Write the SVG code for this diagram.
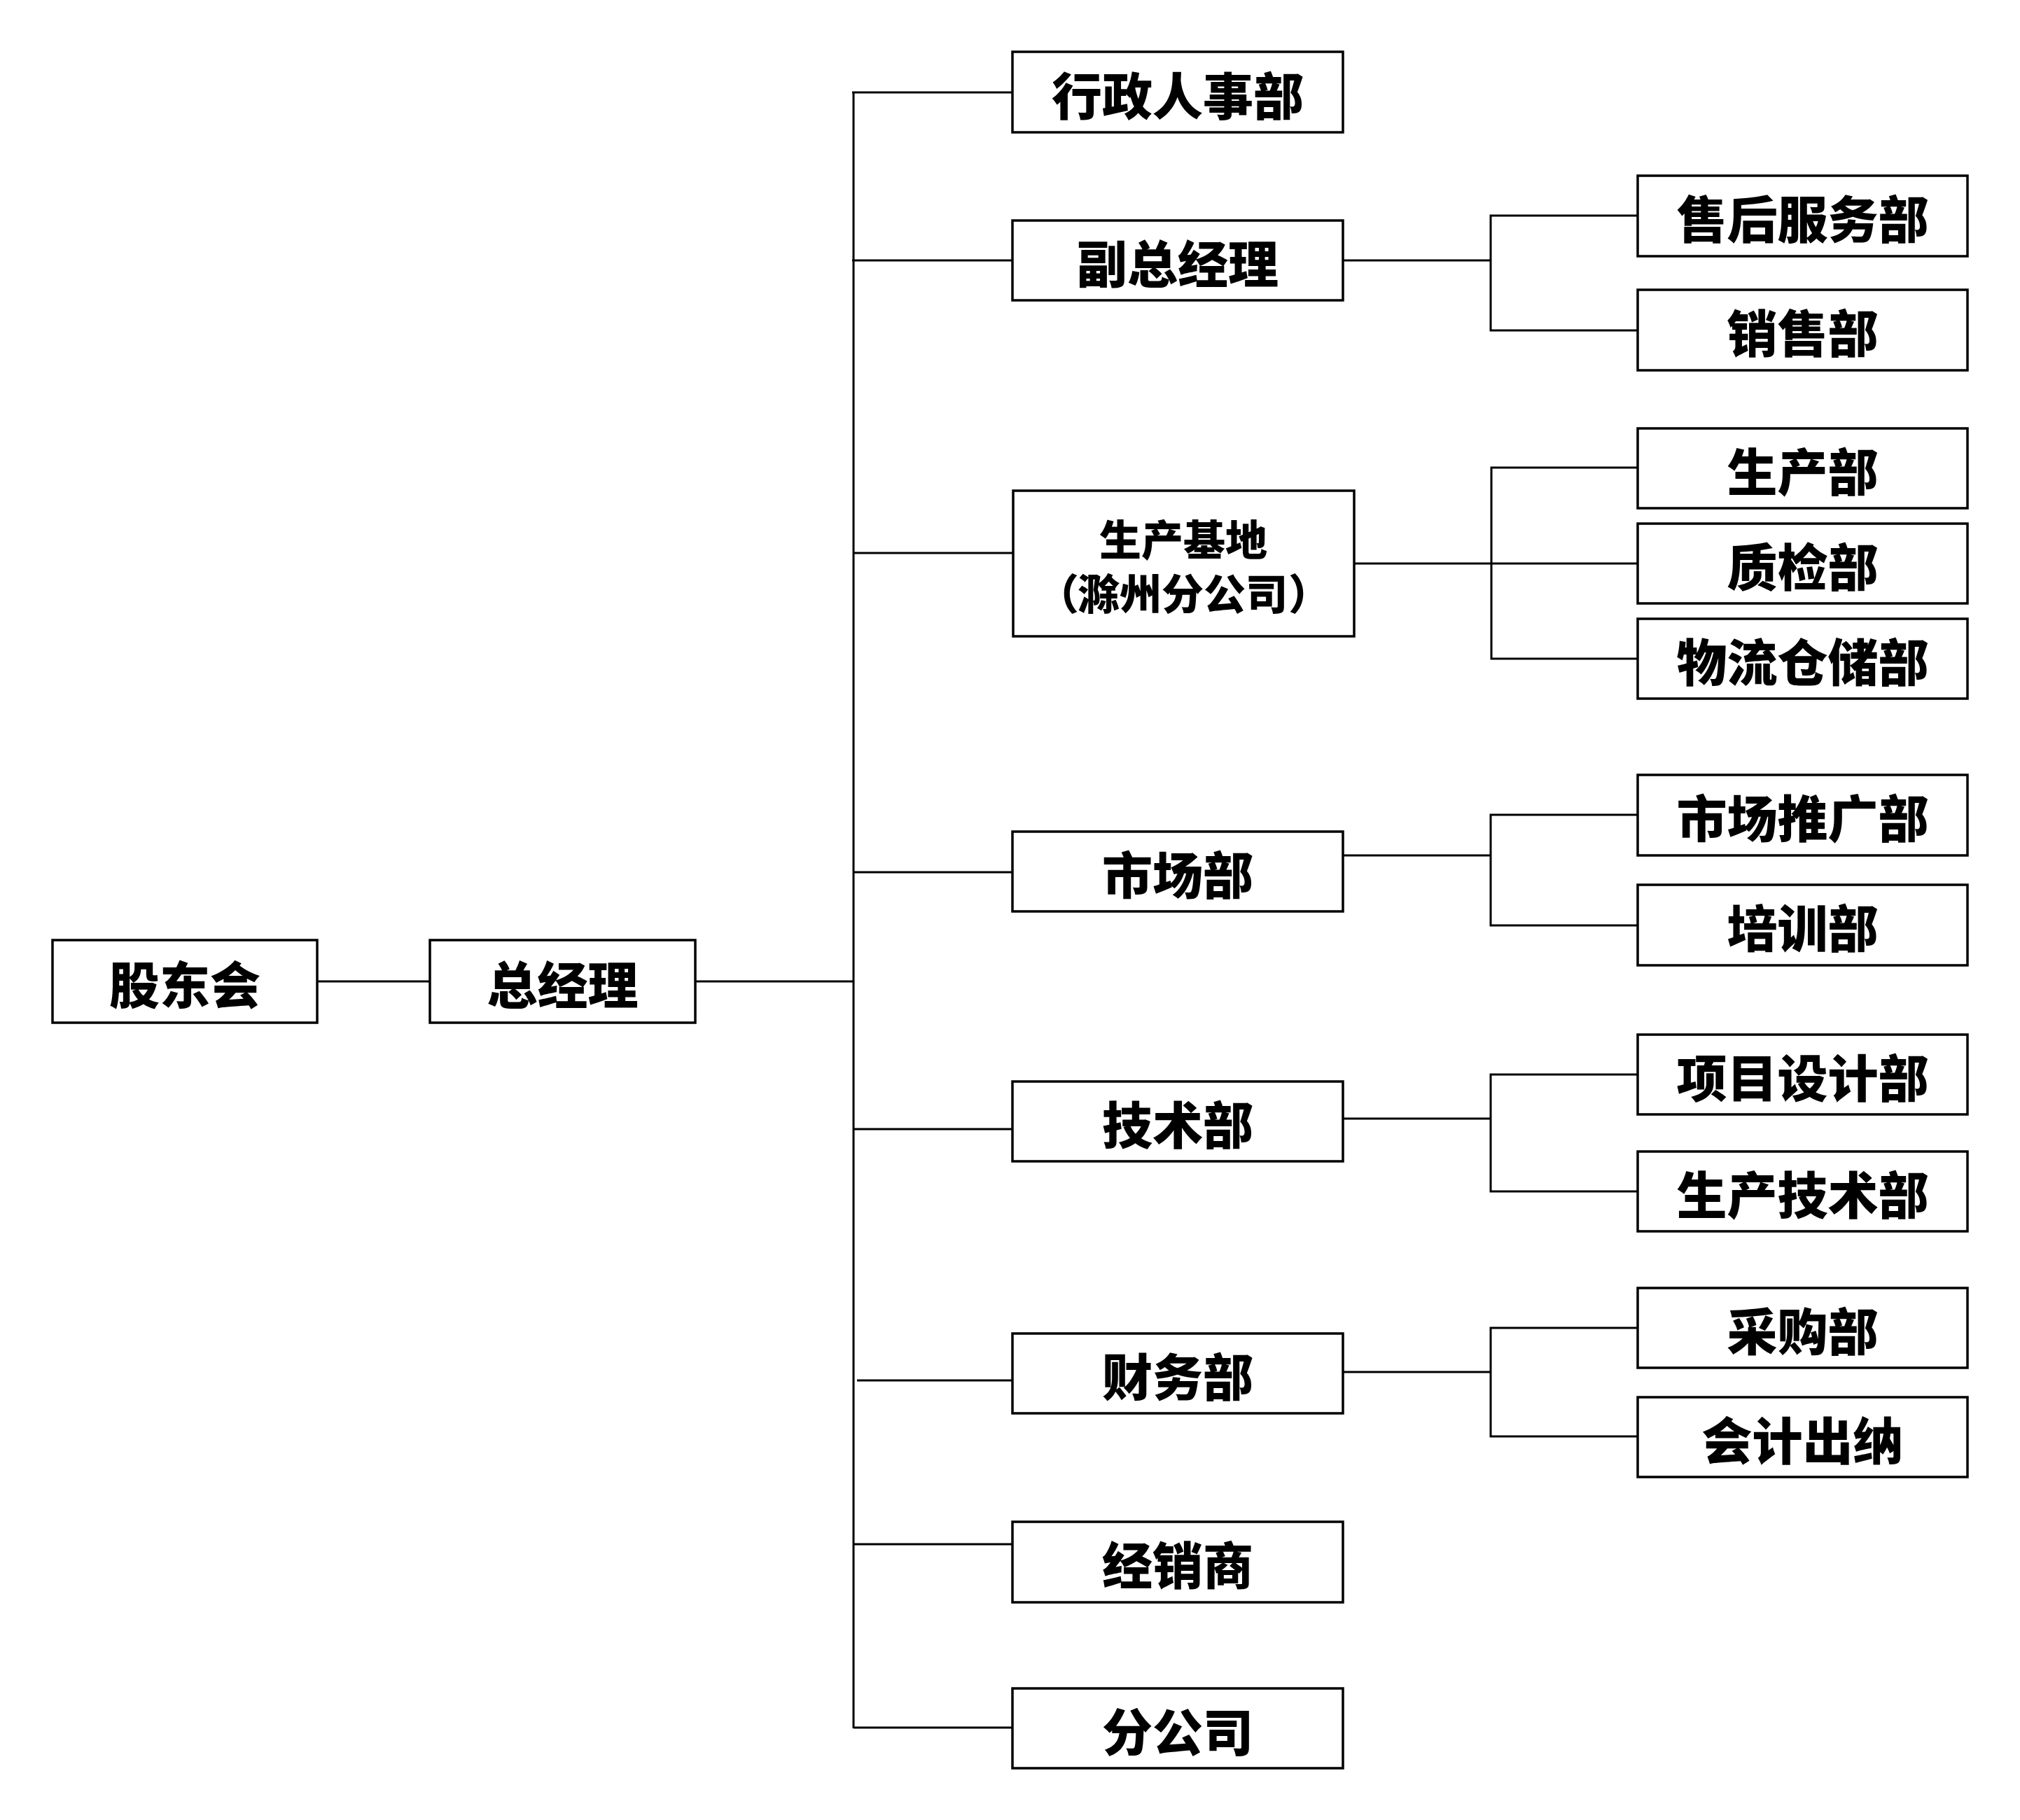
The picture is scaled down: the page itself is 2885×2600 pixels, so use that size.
<svg xmlns="http://www.w3.org/2000/svg" width="2885" height="2600" viewBox="0 0 2885 2600">
<style>
  .box { fill: #ffffff; stroke: #000000; stroke-width: 3.5; }
  .lbl { font-family: "Noto Sans CJK SC", "Noto Sans", sans-serif; font-weight: 900; font-size: 72px; fill: #000000; text-anchor: middle; dominant-baseline: central; }
  .lbl2 { font-size: 60px; }
  .conn { fill: none; stroke: #000000; stroke-width: 3; }
</style>
<rect x="0" y="0" width="2885" height="2600" fill="#ffffff"/>
<g id="connectors">
  <line class="conn" x1="453" y1="1402" x2="614" y2="1402"/>
  <line class="conn" x1="993" y1="1402" x2="1219" y2="1402" stroke-width="3.5"/>
  <line class="conn" x1="1219" y1="132" x2="1219" y2="2469"/>
  <line class="conn" x1="1217" y1="132" x2="1446" y2="132"/>
  <line class="conn" x1="1217" y1="372" x2="1446" y2="372"/>
  <line class="conn" x1="1219" y1="790" x2="1447" y2="790"/>
  <line class="conn" x1="1219" y1="1246" x2="1446" y2="1246"/>
  <line class="conn" x1="1219" y1="1613" x2="1446" y2="1613"/>
  <line class="conn" x1="1224" y1="1972" x2="1446" y2="1972"/>
  <line class="conn" x1="1219" y1="2206" x2="1446" y2="2206"/>
  <line class="conn" x1="1219" y1="2468" x2="1446" y2="2468"/>
  <line class="conn" x1="1918" y1="372" x2="2129" y2="372"/>
  <polyline class="conn" points="2339,308 2129,308 2129,472 2339,472"/>
  <line class="conn" x1="1934" y1="805" x2="2339" y2="805"/>
  <polyline class="conn" points="2339,668 2130,668 2130,941 2339,941"/>
  <line class="conn" x1="1918" y1="1222" x2="2129" y2="1222"/>
  <polyline class="conn" points="2339,1164 2129,1164 2129,1322 2339,1322"/>
  <line class="conn" x1="1918" y1="1598" x2="2129" y2="1598"/>
  <polyline class="conn" points="2339,1535 2129,1535 2129,1702 2339,1702"/>
  <line class="conn" x1="1918" y1="1960" x2="2129" y2="1960"/>
  <polyline class="conn" points="2339,1897 2129,1897 2129,2052 2339,2052"/>
</g>
<g id="n-gudonghui"><rect class="box" x="75" y="1343" width="378" height="118"/><text class="lbl" x="264" y="1402">股东会</text></g>
<g id="n-zongjingli"><rect class="box" x="614" y="1343" width="379" height="118"/><text class="lbl" x="803.5" y="1402">总经理</text></g>
<g id="n-xingzheng"><rect class="box" x="1446" y="74" width="472" height="115"/><text class="lbl" x="1682" y="132">行政人事部</text></g>
<g id="n-fuzong"><rect class="box" x="1446" y="315" width="472" height="114"/><text class="lbl" x="1682" y="372">副总经理</text></g>
<g id="n-shengchanjidi"><rect class="box" x="1447" y="701" width="487" height="208"/><text class="lbl lbl2"><tspan x="1690" y="767">生产基地</tspan><tspan x="1511" y="844">（</tspan><tspan x="1689" y="844">滁州分公司</tspan><tspan x="1870" y="844">）</tspan></text></g>
<g id="n-shichang"><rect class="box" x="1446" y="1188" width="472" height="114"/><text class="lbl" x="1682" y="1245">市场部</text></g>
<g id="n-jishu"><rect class="box" x="1446" y="1545" width="472" height="114"/><text class="lbl" x="1682" y="1602">技术部</text></g>
<g id="n-caiwu"><rect class="box" x="1446" y="1905" width="472" height="114"/><text class="lbl" x="1682" y="1962">财务部</text></g>
<g id="n-jingxiao"><rect class="box" x="1446" y="2174" width="472" height="115"/><text class="lbl" x="1682" y="2231.5">经销商</text></g>
<g id="n-fengongsi"><rect class="box" x="1446" y="2412" width="472" height="114"/><text class="lbl" x="1682" y="2469">分公司</text></g>
<g id="n-shouhou"><rect class="box" x="2339" y="251" width="471" height="115"/><text class="lbl" x="2574.5" y="308.5">售后服务部</text></g>
<g id="n-xiaoshou"><rect class="box" x="2339" y="414" width="471" height="115"/><text class="lbl" x="2574.5" y="471.5">销售部</text></g>
<g id="n-shengchan"><rect class="box" x="2339" y="612" width="471" height="114"/><text class="lbl" x="2574.5" y="669">生产部</text></g>
<g id="n-zhijian"><rect class="box" x="2339" y="748" width="471" height="114"/><text class="lbl" x="2574.5" y="805">质检部</text></g>
<g id="n-wuliu"><rect class="box" x="2339" y="884" width="471" height="114"/><text class="lbl" x="2574.5" y="941">物流仓储部</text></g>
<g id="n-tuiguang"><rect class="box" x="2339" y="1107" width="471" height="115"/><text class="lbl" x="2574.5" y="1164.5">市场推广部</text></g>
<g id="n-peixun"><rect class="box" x="2339" y="1264" width="471" height="115"/><text class="lbl" x="2574.5" y="1321.5">培训部</text></g>
<g id="n-xiangmu"><rect class="box" x="2339" y="1478" width="471" height="114"/><text class="lbl" x="2574.5" y="1535">项目设计部</text></g>
<g id="n-shengchanjishu"><rect class="box" x="2339" y="1645" width="471" height="114"/><text class="lbl" x="2574.5" y="1702">生产技术部</text></g>
<g id="n-caigou"><rect class="box" x="2339" y="1840" width="471" height="114"/><text class="lbl" x="2574.5" y="1897">采购部</text></g>
<g id="n-kuaiji"><rect class="box" x="2339" y="1996" width="471" height="114"/><text class="lbl" x="2574.5" y="2053">会计出纳</text></g>
</svg>
